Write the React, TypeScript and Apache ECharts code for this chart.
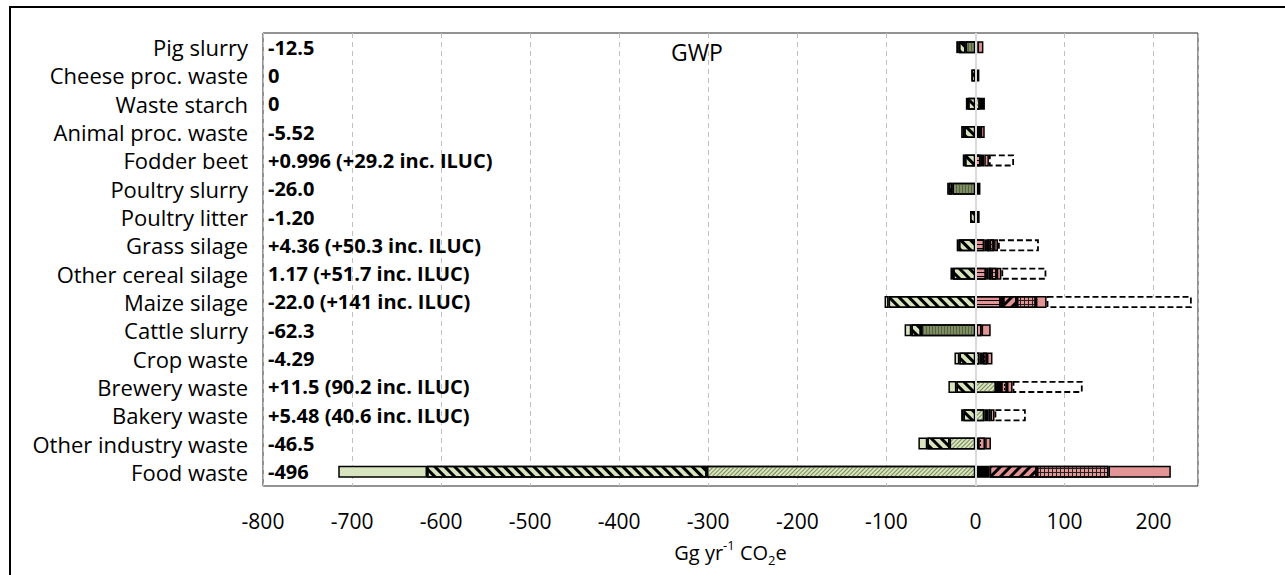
import React, { useEffect, useRef } from 'react';
import * as echarts from 'echarts';

const categories = [
  'Pig slurry', 'Cheese proc. waste', 'Waste starch', 'Animal proc. waste', 'Fodder beet',
  'Poultry slurry', 'Poultry litter', 'Grass silage', 'Other cereal silage', 'Maize silage',
  'Cattle slurry', 'Crop waste', 'Brewery waste', 'Bakery waste', 'Other industry waste', 'Food waste',
];
const valueLabels = [
  '-12.5', '0', '0', '-5.52', '+0.996 (+29.2 inc. ILUC)', '-26.0', '-1.20', '+4.36 (+50.3 inc. ILUC)',
  '1.17 (+51.7 inc. ILUC)', '-22.0 (+141 inc. ILUC)', '-62.3', '-4.29', '+11.5 (90.2 inc. ILUC)',
  '+5.48 (40.6 inc. ILUC)', '-46.5', '-496',
];

const thinDiag = [null, null, 5, null, null, null, null, null, null, null, null, 4.5, 23.2, 10, -29, -301.6];
const vertGreen = [-11, null, null, null, null, -25.7, null, null, null, null, -61, null, null, null, null, null];
const wideDiag = [-7.5, -4.5, -8.2, -12.5, -11.7, -4, -6, -18.5, -25, -97.5, -11, -18, -21.3, -13.5, -25, -314.2];
const solidGreen = [-3, null, -2.5, -3.5, -2.5, -2, null, -2.5, -3, -4.5, -7.5, -5.5, -9, -2.5, -10, -99.7];
const horizPink = [null, null, null, null, 6, null, null, 10, 12, 28.5, null, null, null, null, null, null];
const blackPart = [2.5, 4.5, 5.7, 4, 4, 5.7, 4.8, 3, 3, 2.5, 1, 4, 5.6, 5, 3, 16];
const diagPink = [null, null, null, null, null, null, null, 3, 3, 15.5, null, null, null, null, null, 53];
const gridPink = [null, null, null, null, null, null, null, 5, 6, 21.5, null, null, null, null, null, 80.5];
const dotsPink = [null, null, null, 2, null, null, null, null, null, null, 6, 4.5, 6.7, 2, 8, null];
const solidPink = [6.5, null, null, 4.5, 5.2, null, null, 4.4, 5.2, 12, 10.2, 6.2, 6.3, 4.5, 6.5, 70];
const iluc = [null, null, null, null, 28.2, null, null, 45.9, 50.5, 163, null, null, 78.7, 35.1, null, null];

const FONT = "'Open Sans', sans-serif";
const GREEN = '#d7e4bd';
const PINK = '#e39595';
const GRAYGREEN = '#7f8d64';

export default function App() {
  const ref = useRef<HTMLDivElement>(null);
  useEffect(() => {
    const chart = echarts.init(ref.current!, null, { renderer: 'svg' });
    const mk = (name: string, data: (number | null)[], color: string, decal?: any, extra?: any) => ({
      name,
      type: 'bar',
      stack: 'total',
      barWidth: 12,
      data: data.map((v) => (v == null ? '-' : v)),
      itemStyle: { color, borderColor: '#000', borderWidth: 1.5, ...(decal ? { decal } : {}) },
      emphasis: { disabled: true },
      ...(extra || {}),
    });
    const stripe = (color: string, w: number, gap: number, rotation: number) => ({
      symbol: 'rect', symbolSize: 1, symbolKeepAspect: false, color,
      dashArrayX: [1, 0], dashArrayY: [w, gap], rotation,
    });
    const option: any = {
      animation: false,
      grid: { left: 263, top: 33, width: 935, height: 453, show: true, borderColor: '#262626', borderWidth: 1 },
      title: {
        text: 'GWP', left: 666, top: 35,
        textStyle: { fontFamily: FONT, fontSize: 23, fontWeight: 'normal', color: '#000' },
      },
      xAxis: {
        type: 'value', min: -800, max: 250, interval: 100,
        axisLine: { show: false }, axisTick: { show: false },
        axisLabel: { fontFamily: FONT, fontSize: 21, color: '#000', margin: 24, showMaxLabel: false },
        splitLine: { show: true, lineStyle: { color: '#c0c0c0', type: [5, 4], width: 1 } },
        name: '{a|Gg yr}{s|-1}{a| CO}{b|2}{a|e}',
        nameLocation: 'middle', nameGap: 52,
        nameTextStyle: {
          fontFamily: FONT, fontSize: 20, color: '#000',
          rich: {
            a: { fontFamily: FONT, fontSize: 20, color: '#000', lineHeight: 28 },
            s: { fontFamily: FONT, fontSize: 13, color: '#000', verticalAlign: 'top', lineHeight: 16 },
            b: { fontFamily: FONT, fontSize: 13, color: '#000', verticalAlign: 'bottom', lineHeight: 16 },
          },
        },
      },
      yAxis: [
        {
          type: 'category', inverse: true, data: categories,
          axisLine: { show: false }, axisTick: { show: false },
          axisLabel: { interval: 0, hideOverlap: false, fontFamily: FONT, fontSize: 22, color: '#000', margin: 15 },
        },
        {
          type: 'category', inverse: true, data: valueLabels, position: 'left',
          axisLine: { show: false }, axisTick: { show: false },
          axisLabel: {
            interval: 0, hideOverlap: false, inside: true, fontFamily: FONT, fontSize: 20,
            fontWeight: 'bold', color: '#000', margin: 5,
          },
        },
      ],
      series: [
        mk('Thin diagonal', thinDiag, GREEN, stripe('#7a8a5a', 1, 2, -Math.PI / 4)),
        mk('Vertical', vertGreen, GRAYGREEN, stripe('#56633f', 1, 2, Math.PI / 2)),
        mk('Wide diagonal', wideDiag, GREEN, stripe('#000', 3, 4, Math.PI / 4)),
        mk('Solid green', solidGreen, GREEN),
        mk('Horizontal', horizPink, PINK, stripe('#000', 1, 3, 0)),
        mk('Black', blackPart, '#000'),
        mk('Pink diagonal', diagPink, PINK, stripe('#000', 3, 4, -Math.PI / 4)),
        mk('Pink grid', gridPink, PINK, {
          symbol: 'rect', symbolSize: 1, symbolKeepAspect: false, color: '#222',
          dashArrayX: [[1, 0], [1, 3]], dashArrayY: [1, 0, 3, 0], rotation: 0,
        }),
        mk('Pink dots', dotsPink, PINK, {
          symbol: 'rect', symbolSize: 1, symbolKeepAspect: false, color: '#000',
          dashArrayX: [1, 3], dashArrayY: [2, 2], rotation: 0,
        }),
        mk('Solid pink', solidPink, PINK),
        mk('ILUC', iluc, '#fff', undefined, {
          itemStyle: { color: '#fff', borderColor: '#000', borderWidth: 1.8, borderType: [6, 3] },
          markLine: {
            silent: true, symbol: ['none', 'none'], label: { show: false },
            lineStyle: { color: '#d9d9d9', type: 'solid', width: 2 },
            data: [{ xAxis: 0 }],
          },
        }),
      ],
      graphic: [
        {
          type: 'rect', shape: { x: 10, y: 7, width: 1290, height: 600 },
          style: { fill: 'none', stroke: '#000', lineWidth: 2 }, silent: true,
        },
      ],
    };
    chart.setOption(option);
    return () => chart.dispose();
  }, []);
  return (
    <div
      ref={ref}
      style={{ position: 'absolute', left: 0, top: 0, width: 1285, height: 575, background: '#fff' }}
    />
  );
}
